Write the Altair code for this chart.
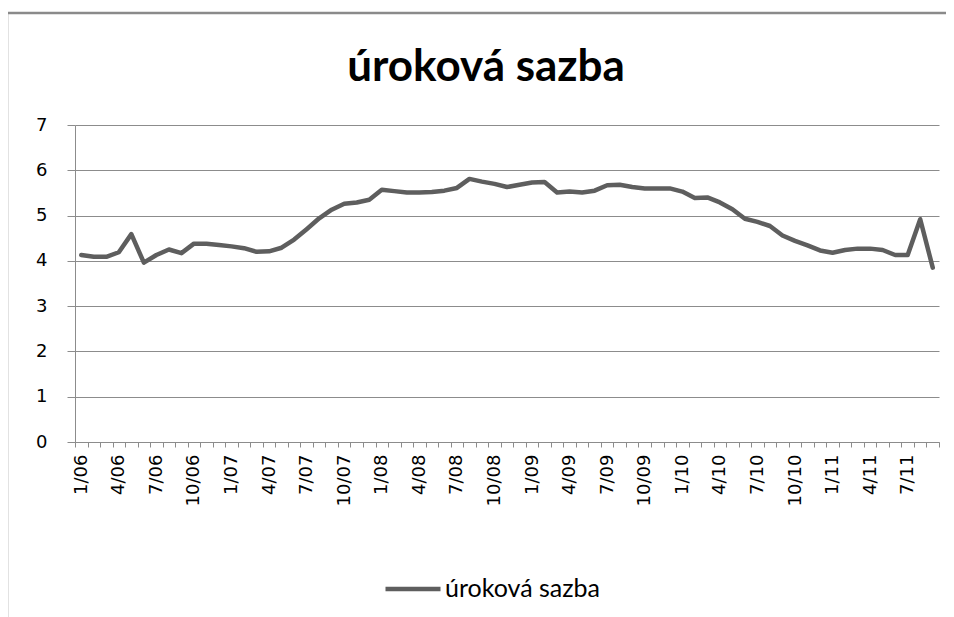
import altair as alt
import pandas as pd

months = [f"{m}/{y:02d}" for y in range(6, 12) for m in range(1, 13)][:69]
rates = [4.13, 4.09, 4.09, 4.19, 4.59, 3.96, 4.13, 4.25, 4.17, 4.38, 4.38, 4.35,
         4.32, 4.28, 4.20, 4.21, 4.29, 4.47, 4.70, 4.94, 5.13, 5.26, 5.29, 5.35,
         5.57, 5.54, 5.51, 5.51, 5.52, 5.55, 5.61, 5.81, 5.75, 5.70, 5.63, 5.68,
         5.73, 5.74, 5.51, 5.53, 5.51, 5.55, 5.67, 5.68, 5.63, 5.60, 5.60, 5.60,
         5.53, 5.39, 5.40, 5.29, 5.14, 4.93, 4.86, 4.77, 4.56, 4.44, 4.34, 4.23,
         4.18, 4.24, 4.27, 4.27, 4.24, 4.13, 4.13, 4.92, 3.85]
series_name = "úroková sazba"
y_ticks = [0, 1, 2, 3, 4, 5, 6, 7]

df = pd.DataFrame({"month": months, "rate": rates, "series": series_name})

GRID = "#8c8c8c"

line = alt.Chart(df).mark_line(strokeWidth=4.5, strokeJoin="round", strokeCap="round").encode(
    x=alt.X("month:O", sort=None, title=None,
            scale=alt.Scale(type="band", paddingInner=0, paddingOuter=0),
            axis=alt.Axis(labelAngle=-90, tickBand="extent", tickSize=5, tickColor=GRID,
                          domainColor=GRID, labelFont="DejaVu Sans", labelFontSize=18,
                          labelColor="#000", labelPadding=7, labelBaseline="middle",
                          labelExpr="indexof(['1','4','7','10'], split(datum.value,'/')[0]) >= 0 ? datum.value : ''",
                          grid=False, labelOverlap=False)),
    y=alt.Y("rate:Q", title=None,
            scale=alt.Scale(domain=[0, 7], nice=False),
            axis=alt.Axis(values=y_ticks, tickSize=8, tickColor=GRID, domainColor=GRID,
                          gridColor=GRID, gridOpacity=1, labelFont="DejaVu Sans",
                          labelFontSize=18, labelColor="#000", labelPadding=20)),
    color=alt.Color("series:N", title=None,
                    scale=alt.Scale(range=["#5e5e5e"]),
                    legend=alt.Legend(orient="none", legendX=308, legendY=434,
                                      symbolType="stroke", symbolSize=3025,
                                      symbolStrokeWidth=4.5, labelFont="Lato",
                                      labelFontSize=25, labelColor="#000", labelOffset=2)),
)

deco = pd.DataFrame({"k": [0]})
border_v = alt.Chart(deco).mark_rule(color="#8a8a8a", strokeWidth=2.5).encode(
    x=alt.value(-68), y=alt.value(-113), y2=alt.value(530))
border_h = alt.Chart(deco).mark_rule(color="#8a8a8a", strokeWidth=2.5).encode(
    x=alt.value(-69), x2=alt.value(900), y=alt.value(-112))
title = alt.Chart(deco).mark_text(text=series_name, font="Lato", fontSize=44,
                                  fontWeight="bold", color="#000", align="center",
                                  baseline="alphabetic").encode(
    x=alt.value(411), y=alt.value(-44))

chart = alt.layer(border_v, border_h, title, line).properties(
    width=864, height=317,
    autosize=alt.AutoSizeParams(type="none"),
    padding={"left": 67, "top": 117, "right": 7, "bottom": 180},
).configure_view(stroke=None)

chart.save("out.html", embed_options={"renderer": "svg", "actions": False})
